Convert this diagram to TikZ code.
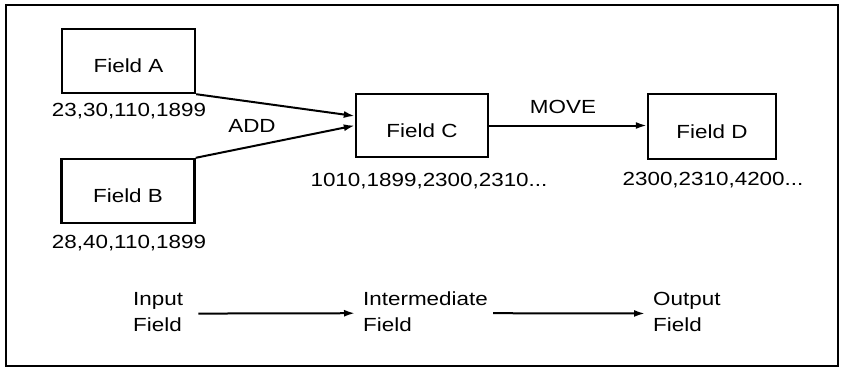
\documentclass[tikz,border=0pt]{standalone}
\usepackage{fontspec}
\setmainfont[FakeStretch=1.18]{Liberation Sans}
\usetikzlibrary{arrows.meta}
\begin{document}
\begin{tikzpicture}[x=1pt,y=-1pt,
  font=\fontsize{19}{26}\selectfont,
  fieldbox/.style={draw, line width=2.4pt, inner sep=0pt, minimum width=133pt, minimum height=64pt, text height=23pt, text depth=0pt},
  lbl/.style={inner sep=0pt, anchor=base},
  side/.style={inner sep=0pt, anchor=base west, align=left},
  conn/.style={line width=2pt, -{Latex[length=11pt,width=7pt]}}]
\useasboundingbox (0,0) rectangle (841,368);
\draw[line width=2pt] (6,5) rectangle (838,366);
\node[fieldbox] (A) at (128.5,61) {Field A};
\node[fieldbox] (B) at (128,191) {Field B};
\node[fieldbox, minimum width=132pt, minimum height=63pt] (C) at (422,125.5) {Field C};
\node[fieldbox, minimum width=128pt, minimum height=65pt] (D) at (712,126.5) {Field D};
\node[lbl] (la) at (129,116) {23,30,110,1899};
\node[lbl] (lb) at (129,248) {28,40,110,1899};
\node[lbl] (lc) at (429,186) {1010,1899,2300,2310...};
\node[lbl] (ld) at (713,185) {2300,2310,4200...};
\node[lbl] (add) at (252,132) {ADD};
\node[lbl] (move) at (563,113) {MOVE};
\draw[conn] (A.south east) -- ([yshift=9.5pt]C.west);
\draw[conn] (B.north east) -- (C.west);
\draw[conn] (C.east) -- (C.east -| D.west);
\node[side] (in) at (133,331) {Input\\Field};
\node[side] (mid) at (363,331) {Intermediate\\Field};
\node[side] (out) at (653,331) {Output\\Field};
\draw[conn] ([xshift=15pt,yshift=-2pt]in.east) -- ([xshift=-8pt,yshift=-2pt]mid.west);
\draw[conn] ([xshift=5pt,yshift=-2pt]mid.east) -- ([xshift=-8pt,yshift=-2pt]out.west);
\end{tikzpicture}
\end{document}
